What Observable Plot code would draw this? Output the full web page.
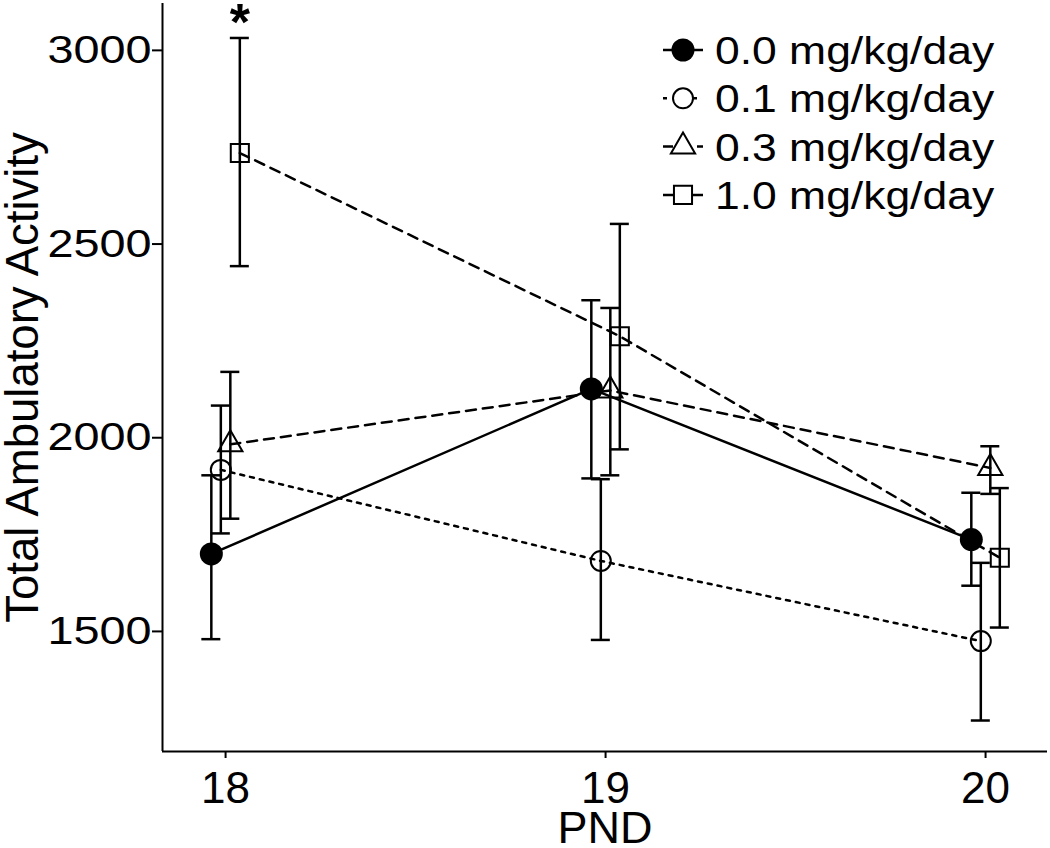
<!DOCTYPE html>
<html><head><meta charset="utf-8">
<script src="https://cdn.jsdelivr.net/npm/d3@7"></script>
<script src="https://cdn.jsdelivr.net/npm/@observablehq/plot@0.6"></script>
<style>
body{margin:0;background:#fff}
#chart svg{font-family:"Liberation Sans",Arial,Helvetica,sans-serif;display:block}
</style>
</head><body><div id="chart"></div>
<script>
// ---- data ----
const pnd = [18, 19, 20];
const doses = ["0.0 mg/kg/day", "0.1 mg/kg/day", "0.3 mg/kg/day", "1.0 mg/kg/day"];
const mean00 = [1700, 2126, 1737];
const lo00   = [1480, 1895, 1618];
const hi00   = [1903, 2355, 1858];
const mean01 = [1917, 1682, 1475];
const lo01   = [1753, 1478, 1270];
const hi01   = [2083, 1893, 1677];
const mean03 = [1983, 2122, 1922];
const lo03   = [1791, 1903, 1855];
const hi03   = [2170, 2335, 1978];
const mean10 = [2735, 2262, 1690];
const lo10   = [2443, 1970, 1510];
const hi10   = [3032, 2552, 1870];
const yTicks = [1500, 2000, 2500, 3000];
const xTicks = [18, 19, 20];
const significant = [{dose: "1.0 mg/kg/day", pnd: 18, label: "*"}];

// ---- styling per series ----
const seriesStyle = [
  {symbol: "circle",   fill: "black", r: 11.5, dash: null},
  {symbol: "circle",   fill: "none",  r: 10,   dash: "4,6"},
  {symbol: "triangle", fill: "none",  r: 9,    dash: "10,7"},
  {symbol: "square",   fill: "none",  r: 10.2, dash: "10,7"}
];
const means = [mean00, mean01, mean03, mean10];
const los = [lo00, lo01, lo03, lo10];
const his = [hi00, hi01, hi03, hi10];

// position_dodge(width = 0.1)
const dodgeWidth = 0.1;
const n = doses.length;
const offsets = doses.map((d, i) => (i - (n - 1) / 2) * dodgeWidth / n);

const rows = [];
doses.forEach((dose, i) => {
  pnd.forEach((p, j) => {
    rows.push({dose, gi: i, pnd: p, x: p + offsets[i], mean: means[i][j], lo: los[i][j], hi: his[i][j]});
  });
});

const xDomain = [17.834, 20.163];
const yDomain = [1190, 3121];
const capHalf = 0.025;

const marks = [
  Plot.ruleX([xDomain[0]], {stroke: "black", strokeWidth: 2}),
  Plot.ruleY([yDomain[0]], {stroke: "black", strokeWidth: 2}),
  Plot.axisY({ticks: yTicks, tickSize: 10, tickPadding: 1, fontSize: 39, label: null, tickFormat: d => String(d), strokeWidth: 2}),
  Plot.axisX({ticks: xTicks, tickSize: 7, tickPadding: 13, fontSize: 44, label: null, tickFormat: d => String(d), strokeWidth: 2}),
  Plot.text(["PND"], {frameAnchor: "bottom", lineAnchor: "top", textAnchor: "middle", dy: 60, fontSize: 45, text: d => d}),
  Plot.text(["Total Ambulatory Activity"], {frameAnchor: "left", rotate: -90, dx: -139, lineAnchor: "middle", textAnchor: "middle", fontSize: 45.5, text: d => d})
];

doses.forEach((dose, i) => {
  const data = rows.filter(r => r.gi === i);
  const st = seriesStyle[i];
  marks.push(Plot.line(data, {x: "x", y: "mean", stroke: "black", strokeWidth: 2.5, strokeDasharray: st.dash}));
  marks.push(Plot.ruleX(data, {x: "x", y1: "lo", y2: "hi", stroke: "black", strokeWidth: 2.5}));
  marks.push(Plot.ruleY(data, {y: "lo", x1: d => d.x - capHalf, x2: d => d.x + capHalf, stroke: "black", strokeWidth: 2.5}));
  marks.push(Plot.ruleY(data, {y: "hi", x1: d => d.x - capHalf, x2: d => d.x + capHalf, stroke: "black", strokeWidth: 2.5}));
});
doses.forEach((dose, i) => {
  const data = rows.filter(r => r.gi === i);
  const st = seriesStyle[i];
  marks.push(Plot.dot(data, {x: "x", y: "mean", symbol: st.symbol, r: st.r, fill: st.fill, stroke: "black", strokeWidth: st.fill === "none" ? 2 : 0}));
});
// significance marker
marks.push(Plot.text(significant.map(s => rows.find(r => r.dose === s.dose && r.pnd === s.pnd)), {
  x: "x", y: "hi", text: () => "*", lineAnchor: "middle", dy: -15, fontSize: 52, fontWeight: "bold"
}));

const chart = Plot.plot({
  width: 1050, height: 848,
  marginLeft: 162, marginRight: 3, marginTop: 3, marginBottom: 97,
  x: {domain: xDomain},
  y: {domain: yDomain},
  style: {background: "white", color: "black"},
  marks
});
document.getElementById("chart").appendChild(chart);

// stretch y tick labels horizontally to match reference glyph proportions
function stretch(el, sx) {
  const tr = el.getAttribute("transform");
  if (tr) el.setAttribute("transform", tr + ` scale(${sx},1)`);
  else {
    const x = +el.getAttribute("x") || 0, y = +el.getAttribute("y") || 0;
    el.removeAttribute("x"); el.removeAttribute("y");
    el.setAttribute("transform", `translate(${x},${y}) scale(${sx},1)`);
  }
}
chart.querySelectorAll('[aria-label="y-axis tick label"] text').forEach(t => stretch(t, 1.2));

// legend (drawn inside the plot area, top right)
const svg = d3.select(chart);
const lg = svg.append("g").attr("class", "legend").attr("text-anchor", "start");
const rowY0 = 50, rowStep = 48.3;
const legendSym = {
  circle: d3.symbolCircle, triangle: d3.symbolTriangle, square: d3.symbolSquare
};
doses.forEach((dose, i) => {
  const st = seriesStyle[i];
  const cy = rowY0 + i * rowStep;
  const g = lg.append("g").attr("transform", `translate(683,${cy})`);
  g.append("line").attr("x1", -20).attr("x2", 20).attr("y1", 0).attr("y2", 0)
    .attr("stroke", "black").attr("stroke-width", 2.5)
    .attr("stroke-dasharray", i === 3 ? null : st.dash);
  g.append("path").attr("d", d3.symbol(legendSym[st.symbol], st.r * st.r * Math.PI)())
    .attr("fill", st.fill === "none" ? "white" : st.fill).attr("stroke", "black").attr("stroke-width", st.fill === "none" ? 2 : 0);
  lg.append("text").attr("transform", `translate(715,${cy + 14}) scale(1.14,1)`)
    .attr("text-anchor", "start")
    .attr("font-size", 39).attr("fill", "black").text(dose);
});
</script>
</body></html>
